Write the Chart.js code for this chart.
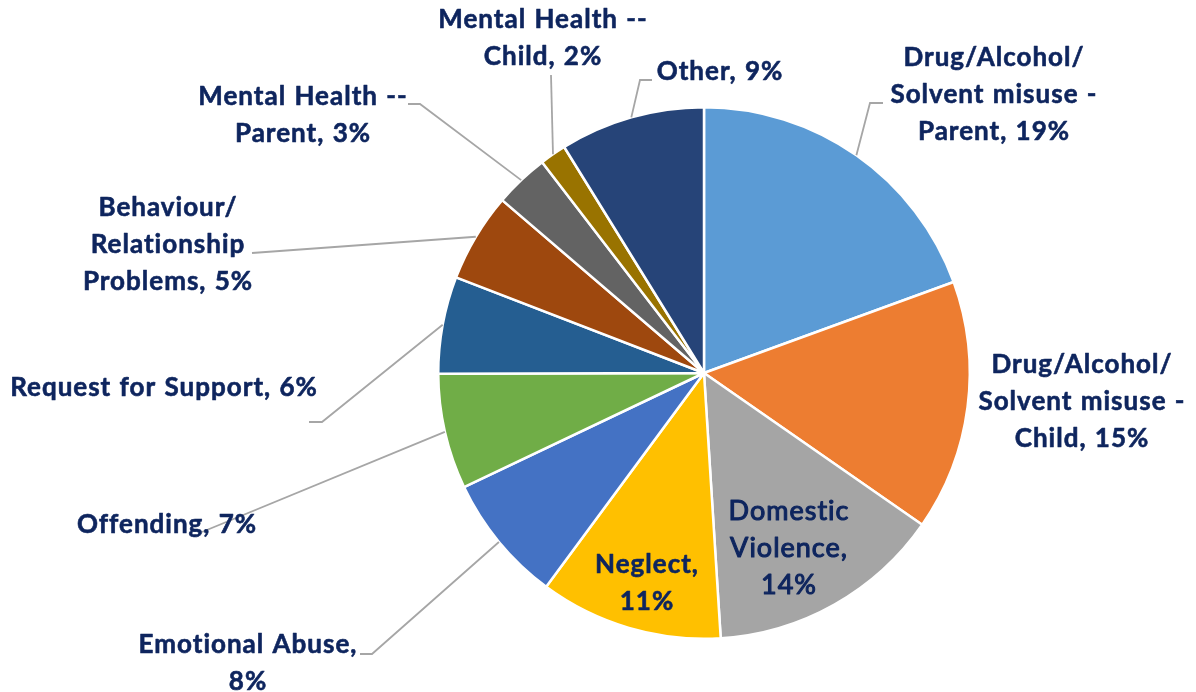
<!DOCTYPE html>
<html>
<head>
<meta charset="utf-8">
<script src="https://cdn.jsdelivr.net/npm/chart.js@4.4.1/dist/chart.umd.min.js"></script>
<style>
  html, body { margin: 0; padding: 0; background: #ffffff; }
  #wrap { width: 1196px; height: 692px; }
  canvas { display: block; }
</style>
</head>
<body>
<div id="wrap"><canvas id="chart" width="1196" height="692"></canvas></div>
<script>
// Referral reasons, clockwise from 12 o'clock; each entry is the label split into its lines
const categories = [
  ["Drug/Alcohol/", "Solvent misuse -", "Parent"],
  ["Drug/Alcohol/", "Solvent misuse -", "Child"],
  ["Domestic", "Violence"],
  ["Neglect"],
  ["Emotional Abuse"],
  ["Offending"],
  ["Request for Support"],
  ["Behaviour/", "Relationship", "Problems"],
  ["Mental Health --", "Parent"],
  ["Mental Health --", "Child"],
  ["Other"]
];

// Share of referrals (%)
const shares = [19.4, 15.2, 14.3, 11.1, 7.8, 7.0, 5.9, 5.4, 3.3, 1.6, 8.8];

// Whether the percentage goes on its own line under the name
const percentOnOwnLine = [false, false, true, true, true, false, false, false, false, false, false];

const sliceColors = [
  "#5B9BD5", "#ED7D31", "#A5A5A5", "#FFC000", "#4472C4", "#70AD47",
  "#255E91", "#9E480E", "#636363", "#997300", "#264478"
];

// Label block centres and leader-line bends, in px relative to the pie centre
const labelPlacement = [
  { dx: 290,  dy: -278, bends: [[166, -270], [179, -270]] },
  { dx: 378,  dy: 29,   bends: null },
  { dx: 85,   dy: 175,  bends: null, regular: true },
  { dx: -57,  dy: 210,  bends: null },
  { dx: -456, dy: 290,  bends: [[-332, 281], [-344, 281]] },
  { dx: -537, dy: 152,  bends: [[-502, 159]] },
  { dx: -540, dy: 15,   bends: [[-382, 49], [-395, 49]] },
  { dx: -536, dy: -128, bends: [[-452, -120]] },
  { dx: -401, dy: -258, bends: [[-284, -269], [-296, -269]] },
  { dx: -161, dy: -335, bends: [[-153, -298]] },
  { dx: 16,   dy: -301, bends: [[-64, -293], [-52, -293]] }
];

const LABEL_FONT = "bold 26px Lato";
const LABEL_FONT_REGULAR = "normal 27px Lato";
const LABEL_COLOR = "#0E255E";
const LEADER_COLOR = "#A6A6A6";
const LINE_HEIGHT = 37;

function labelLines(i, total) {
  const pct = Math.round(shares[i] / total * 100) + "%";
  const lines = categories[i].slice();
  const last = lines.length - 1;
  if (percentOnOwnLine[i]) {
    lines[last] = lines[last] + ",";
    lines.push(pct);
  } else {
    lines[last] = lines[last] + ", " + pct;
  }
  return lines;
}

const pieLabels = {
  id: "pieLabels",
  afterDatasetsDraw(chart) {
    const ctx = chart.ctx;
    const meta = chart.getDatasetMeta(0);
    const total = shares.reduce((a, b) => a + b, 0);
    ctx.save();
    meta.data.forEach((arc, i) => {
      const place = labelPlacement[i];
      const cx = arc.x, cy = arc.y;
      if (place.bends) {
        const mid = (arc.startAngle + arc.endAngle) / 2;
        const r = arc.outerRadius;
        ctx.beginPath();
        ctx.moveTo(cx + r * Math.cos(mid), cy + r * Math.sin(mid));
        place.bends.forEach(p => ctx.lineTo(cx + p[0], cy + p[1]));
        ctx.strokeStyle = LEADER_COLOR;
        ctx.lineWidth = 1.8;
        ctx.stroke();
      }
    });
    if ("letterSpacing" in ctx) ctx.letterSpacing = "1px";
    if ("wordSpacing" in ctx) ctx.wordSpacing = "1px";
    ctx.fillStyle = LABEL_COLOR;
    ctx.strokeStyle = LABEL_COLOR;
    ctx.lineJoin = "round";
    ctx.textAlign = "center";
    ctx.textBaseline = "middle";
    meta.data.forEach((arc, i) => {
      const place = labelPlacement[i];
      ctx.font = place.regular ? LABEL_FONT_REGULAR : LABEL_FONT;
      ctx.lineWidth = place.regular ? 1.1 : 0.6;
      const lines = labelLines(i, total);
      const top = arc.y + place.dy - (lines.length - 1) * LINE_HEIGHT / 2;
      lines.forEach((t, k) => {
        const x = arc.x + place.dx, y = top + k * LINE_HEIGHT;
        ctx.fillText(t, x, y);
        ctx.strokeText(t, x, y);
      });
    });
    ctx.restore();
  }
};

function draw() {
  new Chart(document.getElementById("chart"), {
    type: "pie",
    data: {
      labels: categories,
      datasets: [{
        data: shares,
        backgroundColor: sliceColors,
        borderColor: "#ffffff",
        borderWidth: 2.5
      }]
    },
    options: {
      responsive: false,
      animation: false,
      layout: { padding: { left: 437, right: 225, top: 106, bottom: 52 } },
      plugins: {
        legend: { display: false },
        tooltip: { enabled: false },
        title: { display: false }
      }
    },
    plugins: [pieLabels]
  });
}

Promise.all([
  document.fonts.load(LABEL_FONT),
  document.fonts.load(LABEL_FONT_REGULAR)
]).then(draw, draw);
</script>
</body>
</html>
